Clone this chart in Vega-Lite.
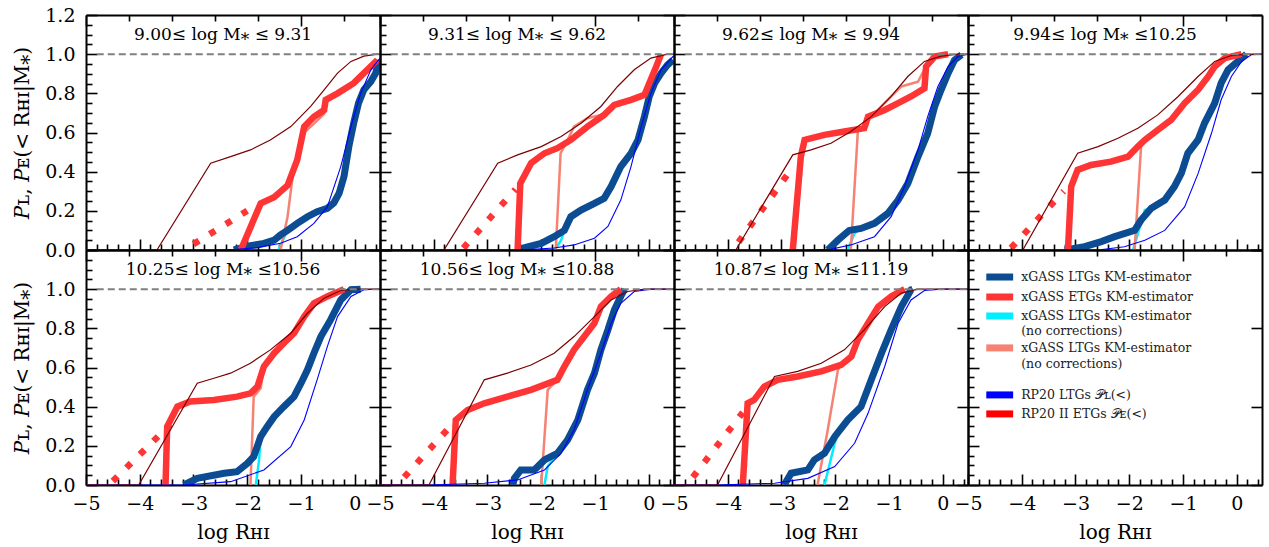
{
  "$schema": "https://vega.github.io/schema/vega-lite/v6.json",
  "padding": {"left": 12, "top": 6, "right": 5, "bottom": 5},
  "spacing": 0,
  "bounds": "flush",
  "columns": 4,
  "config": {
    "view": {"stroke": null},
    "font": "DejaVu Serif",
    "axis": {"grid": false, "domainColor": "#000", "domainWidth": 2, "tickColor": "#000", "tickWidth": 1.6, "labelFont": "DejaVu Serif", "labelFontSize": 19, "labelColor": "#000", "titleFont": "DejaVu Serif", "titleFontSize": 20, "titleFontWeight": "normal", "titleColor": "#000", "labelFlush": false, "labelOverlap": false}
  },
  "datasets": {
    "curves": [
      {"p":1,"s":"rp_etg","x":-5,"y":0},{"p":1,"s":"rp_etg","x":-3.68,"y":0},{"p":1,"s":"rp_etg","x":-2.68,"y":0.443},{"p":1,"s":"rp_etg","x":-2.31,"y":0.477},{"p":1,"s":"rp_etg","x":-1.94,"y":0.511},{"p":1,"s":"rp_etg","x":-1.57,"y":0.562},{"p":1,"s":"rp_etg","x":-1.19,"y":0.63},{"p":1,"s":"rp_etg","x":-0.82,"y":0.733},{"p":1,"s":"rp_etg","x":-0.57,"y":0.818},{"p":1,"s":"rp_etg","x":-0.32,"y":0.903},{"p":1,"s":"rp_etg","x":-0.07,"y":0.963},{"p":1,"s":"rp_etg","x":0.17,"y":0.99},{"p":1,"s":"rp_etg","x":0.42,"y":1.0},{"p":1,"s":"rp_etg","x":0.47,"y":1.0},
      {"p":1,"s":"rp_ltg","x":-5,"y":0},{"p":1,"s":"rp_ltg","x":-2.6,"y":0},{"p":1,"s":"rp_ltg","x":-2.2,"y":0.004},{"p":1,"s":"rp_ltg","x":-1.81,"y":0.012},{"p":1,"s":"rp_ltg","x":-1.38,"y":0.034},{"p":1,"s":"rp_ltg","x":-1.07,"y":0.068},{"p":1,"s":"rp_ltg","x":-0.76,"y":0.136},{"p":1,"s":"rp_ltg","x":-0.51,"y":0.22},{"p":1,"s":"rp_ltg","x":-0.26,"y":0.426},{"p":1,"s":"rp_ltg","x":-0.07,"y":0.63},{"p":1,"s":"rp_ltg","x":0.11,"y":0.8},{"p":1,"s":"rp_ltg","x":0.3,"y":0.92},{"p":1,"s":"rp_ltg","x":0.47,"y":0.98},
      {"p":1,"s":"km_ltg","x":-2.25,"y":0},{"p":1,"s":"km_ltg","x":-1.94,"y":0.022},{"p":1,"s":"km_ltg","x":-1.69,"y":0.034},{"p":1,"s":"km_ltg","x":-1.5,"y":0.05},{"p":1,"s":"km_ltg","x":-1.38,"y":0.077},{"p":1,"s":"km_ltg","x":-1.25,"y":0.1},{"p":1,"s":"km_ltg","x":-1.07,"y":0.136},{"p":1,"s":"km_ltg","x":-0.88,"y":0.17},{"p":1,"s":"km_ltg","x":-0.7,"y":0.196},{"p":1,"s":"km_ltg","x":-0.51,"y":0.213},{"p":1,"s":"km_ltg","x":-0.39,"y":0.24},{"p":1,"s":"km_ltg","x":-0.29,"y":0.29},{"p":1,"s":"km_ltg","x":-0.2,"y":0.375},{"p":1,"s":"km_ltg","x":-0.11,"y":0.528},{"p":1,"s":"km_ltg","x":-0.02,"y":0.647},{"p":1,"s":"km_ltg","x":0.07,"y":0.75},{"p":1,"s":"km_ltg","x":0.17,"y":0.818},{"p":1,"s":"km_ltg","x":0.3,"y":0.86},{"p":1,"s":"km_ltg","x":0.39,"y":0.903},{"p":1,"s":"km_ltg","x":0.45,"y":0.97},
      {"p":1,"s":"km_etg","x":-2.12,"y":0},{"p":1,"s":"km_etg","x":-1.75,"y":0.238},{"p":1,"s":"km_etg","x":-1.5,"y":0.27},{"p":1,"s":"km_etg","x":-1.25,"y":0.33},{"p":1,"s":"km_etg","x":-1.07,"y":0.46},{"p":1,"s":"km_etg","x":-0.94,"y":0.63},{"p":1,"s":"km_etg","x":-0.76,"y":0.68},{"p":1,"s":"km_etg","x":-0.57,"y":0.715},{"p":1,"s":"km_etg","x":-0.54,"y":0.767},{"p":1,"s":"km_etg","x":-0.32,"y":0.8},{"p":1,"s":"km_etg","x":-0.02,"y":0.852},{"p":1,"s":"km_etg","x":0.17,"y":0.903},{"p":1,"s":"km_etg","x":0.42,"y":0.97},
      {"p":1,"s":"dot","x":-3.0,"y":0.03},{"p":1,"s":"dot","x":-2.0,"y":0.2},
      {"p":1,"s":"nc_ltg","x":-1.42,"y":0},{"p":1,"s":"nc_ltg","x":-1.32,"y":0.06},{"p":1,"s":"nc_ltg","x":-1.25,"y":0.1},{"p":1,"s":"nc_ltg","x":-1.07,"y":0.136},{"p":1,"s":"nc_ltg","x":-0.88,"y":0.17},{"p":1,"s":"nc_ltg","x":-0.7,"y":0.196},{"p":1,"s":"nc_ltg","x":-0.51,"y":0.213},{"p":1,"s":"nc_ltg","x":-0.39,"y":0.24},{"p":1,"s":"nc_ltg","x":-0.29,"y":0.29},{"p":1,"s":"nc_ltg","x":-0.2,"y":0.375},{"p":1,"s":"nc_ltg","x":-0.11,"y":0.528},{"p":1,"s":"nc_ltg","x":-0.02,"y":0.647},{"p":1,"s":"nc_ltg","x":0.07,"y":0.75},{"p":1,"s":"nc_ltg","x":0.17,"y":0.818},{"p":1,"s":"nc_ltg","x":0.3,"y":0.86},{"p":1,"s":"nc_ltg","x":0.39,"y":0.903},{"p":1,"s":"nc_ltg","x":0.45,"y":0.97},
      {"p":1,"s":"nc_etg","x":-1.38,"y":0},{"p":1,"s":"nc_etg","x":-1.25,"y":0.17},{"p":1,"s":"nc_etg","x":-1.13,"y":0.43},{"p":1,"s":"nc_etg","x":-1.05,"y":0.5},{"p":1,"s":"nc_etg","x":-0.94,"y":0.6},{"p":1,"s":"nc_etg","x":-0.76,"y":0.645},{"p":1,"s":"nc_etg","x":-0.57,"y":0.695},{"p":1,"s":"nc_etg","x":-0.52,"y":0.77},{"p":1,"s":"nc_etg","x":-0.32,"y":0.8},{"p":1,"s":"nc_etg","x":-0.02,"y":0.852},{"p":1,"s":"nc_etg","x":0.17,"y":0.903},{"p":1,"s":"nc_etg","x":0.42,"y":0.97},

      {"p":2,"s":"rp_etg","x":-5,"y":0},{"p":2,"s":"rp_etg","x":-3.81,"y":0},{"p":2,"s":"rp_etg","x":-2.81,"y":0.443},{"p":2,"s":"rp_etg","x":-2.44,"y":0.486},{"p":2,"s":"rp_etg","x":-2.0,"y":0.528},{"p":2,"s":"rp_etg","x":-1.63,"y":0.58},{"p":2,"s":"rp_etg","x":-1.26,"y":0.647},{"p":2,"s":"rp_etg","x":-0.89,"y":0.733},{"p":2,"s":"rp_etg","x":-0.58,"y":0.835},{"p":2,"s":"rp_etg","x":-0.27,"y":0.92},{"p":2,"s":"rp_etg","x":0.04,"y":0.98},{"p":2,"s":"rp_etg","x":0.35,"y":1.0},{"p":2,"s":"rp_etg","x":0.47,"y":1.0},
      {"p":2,"s":"rp_ltg","x":-5,"y":0},{"p":2,"s":"rp_ltg","x":-2.4,"y":0},{"p":2,"s":"rp_ltg","x":-1.76,"y":0.01},{"p":2,"s":"rp_ltg","x":-1.39,"y":0.026},{"p":2,"s":"rp_ltg","x":-1.01,"y":0.06},{"p":2,"s":"rp_ltg","x":-0.76,"y":0.12},{"p":2,"s":"rp_ltg","x":-0.52,"y":0.255},{"p":2,"s":"rp_ltg","x":-0.33,"y":0.426},{"p":2,"s":"rp_ltg","x":-0.14,"y":0.63},{"p":2,"s":"rp_ltg","x":0.04,"y":0.8},{"p":2,"s":"rp_ltg","x":0.23,"y":0.92},{"p":2,"s":"rp_ltg","x":0.45,"y":0.988},{"p":2,"s":"rp_ltg","x":0.47,"y":0.99},
      {"p":2,"s":"km_ltg","x":-2.47,"y":0},{"p":2,"s":"km_ltg","x":-2.0,"y":0.034},{"p":2,"s":"km_ltg","x":-1.76,"y":0.068},{"p":2,"s":"km_ltg","x":-1.57,"y":0.1},{"p":2,"s":"km_ltg","x":-1.45,"y":0.17},{"p":2,"s":"km_ltg","x":-1.26,"y":0.204},{"p":2,"s":"km_ltg","x":-1.01,"y":0.238},{"p":2,"s":"km_ltg","x":-0.83,"y":0.264},{"p":2,"s":"km_ltg","x":-0.7,"y":0.324},{"p":2,"s":"km_ltg","x":-0.52,"y":0.426},{"p":2,"s":"km_ltg","x":-0.33,"y":0.494},{"p":2,"s":"km_ltg","x":-0.2,"y":0.562},{"p":2,"s":"km_ltg","x":-0.08,"y":0.681},{"p":2,"s":"km_ltg","x":0.01,"y":0.784},{"p":2,"s":"km_ltg","x":0.11,"y":0.852},{"p":2,"s":"km_ltg","x":0.23,"y":0.903},{"p":2,"s":"km_ltg","x":0.35,"y":0.945},{"p":2,"s":"km_ltg","x":0.45,"y":0.97},
      {"p":2,"s":"km_etg","x":-2.44,"y":0},{"p":2,"s":"km_etg","x":-2.39,"y":0.34},{"p":2,"s":"km_etg","x":-2.19,"y":0.443},{"p":2,"s":"km_etg","x":-1.94,"y":0.494},{"p":2,"s":"km_etg","x":-1.7,"y":0.52},{"p":2,"s":"km_etg","x":-1.45,"y":0.562},{"p":2,"s":"km_etg","x":-1.14,"y":0.63},{"p":2,"s":"km_etg","x":-0.83,"y":0.69},{"p":2,"s":"km_etg","x":-0.64,"y":0.741},{"p":2,"s":"km_etg","x":-0.33,"y":0.767},{"p":2,"s":"km_etg","x":-0.08,"y":0.792},{"p":2,"s":"km_etg","x":0.01,"y":0.852},{"p":2,"s":"km_etg","x":0.14,"y":0.937},{"p":2,"s":"km_etg","x":0.23,"y":1.0},
      {"p":2,"s":"dot","x":-3.45,"y":0.01},{"p":2,"s":"dot","x":-2.48,"y":0.31},
      {"p":2,"s":"nc_ltg","x":-1.75,"y":0},{"p":2,"s":"nc_ltg","x":-1.63,"y":0.05},{"p":2,"s":"nc_ltg","x":-1.57,"y":0.1},{"p":2,"s":"nc_ltg","x":-1.45,"y":0.17},{"p":2,"s":"nc_ltg","x":-1.26,"y":0.204},{"p":2,"s":"nc_ltg","x":-1.01,"y":0.238},{"p":2,"s":"nc_ltg","x":-0.83,"y":0.264},{"p":2,"s":"nc_ltg","x":-0.7,"y":0.324},{"p":2,"s":"nc_ltg","x":-0.52,"y":0.426},{"p":2,"s":"nc_ltg","x":-0.33,"y":0.494},{"p":2,"s":"nc_ltg","x":-0.2,"y":0.562},{"p":2,"s":"nc_ltg","x":-0.08,"y":0.681},{"p":2,"s":"nc_ltg","x":0.01,"y":0.784},{"p":2,"s":"nc_ltg","x":0.11,"y":0.852},{"p":2,"s":"nc_ltg","x":0.23,"y":0.903},{"p":2,"s":"nc_ltg","x":0.35,"y":0.945},{"p":2,"s":"nc_ltg","x":0.45,"y":0.97},
      {"p":2,"s":"nc_etg","x":-1.73,"y":0},{"p":2,"s":"nc_etg","x":-1.64,"y":0.494},{"p":2,"s":"nc_etg","x":-1.51,"y":0.562},{"p":2,"s":"nc_etg","x":-1.39,"y":0.63},{"p":2,"s":"nc_etg","x":-1.14,"y":0.673},{"p":2,"s":"nc_etg","x":-0.89,"y":0.69},{"p":2,"s":"nc_etg","x":-0.64,"y":0.735},{"p":2,"s":"nc_etg","x":-0.33,"y":0.767},{"p":2,"s":"nc_etg","x":-0.08,"y":0.792},{"p":2,"s":"nc_etg","x":0.01,"y":0.852},{"p":2,"s":"nc_etg","x":0.14,"y":0.937},{"p":2,"s":"nc_etg","x":0.23,"y":1.0},

      {"p":3,"s":"rp_etg","x":-5,"y":0},{"p":3,"s":"rp_etg","x":-3.85,"y":0},{"p":3,"s":"rp_etg","x":-2.79,"y":0.486},{"p":3,"s":"rp_etg","x":-2.45,"y":0.511},{"p":3,"s":"rp_etg","x":-2.08,"y":0.545},{"p":3,"s":"rp_etg","x":-1.71,"y":0.605},{"p":3,"s":"rp_etg","x":-1.33,"y":0.681},{"p":3,"s":"rp_etg","x":-0.96,"y":0.784},{"p":3,"s":"rp_etg","x":-0.65,"y":0.886},{"p":3,"s":"rp_etg","x":-0.34,"y":0.963},{"p":3,"s":"rp_etg","x":-0.03,"y":0.99},{"p":3,"s":"rp_etg","x":0.28,"y":1.0},{"p":3,"s":"rp_etg","x":0.47,"y":1.0},
      {"p":3,"s":"rp_ltg","x":-5,"y":0},{"p":3,"s":"rp_ltg","x":-2.6,"y":0},{"p":3,"s":"rp_ltg","x":-2.08,"y":0.004},{"p":3,"s":"rp_ltg","x":-1.71,"y":0.026},{"p":3,"s":"rp_ltg","x":-1.27,"y":0.068},{"p":3,"s":"rp_ltg","x":-0.96,"y":0.17},{"p":3,"s":"rp_ltg","x":-0.71,"y":0.324},{"p":3,"s":"rp_ltg","x":-0.46,"y":0.511},{"p":3,"s":"rp_ltg","x":-0.28,"y":0.681},{"p":3,"s":"rp_ltg","x":-0.09,"y":0.835},{"p":3,"s":"rp_ltg","x":0.1,"y":0.937},{"p":3,"s":"rp_ltg","x":0.28,"y":0.988},{"p":3,"s":"rp_ltg","x":0.47,"y":1.0},
      {"p":3,"s":"km_ltg","x":-2.14,"y":0},{"p":3,"s":"km_ltg","x":-1.95,"y":0.05},{"p":3,"s":"km_ltg","x":-1.74,"y":0.1},{"p":3,"s":"km_ltg","x":-1.52,"y":0.11},{"p":3,"s":"km_ltg","x":-1.27,"y":0.136},{"p":3,"s":"km_ltg","x":-1.02,"y":0.187},{"p":3,"s":"km_ltg","x":-0.83,"y":0.255},{"p":3,"s":"km_ltg","x":-0.65,"y":0.34},{"p":3,"s":"km_ltg","x":-0.46,"y":0.477},{"p":3,"s":"km_ltg","x":-0.28,"y":0.596},{"p":3,"s":"km_ltg","x":-0.15,"y":0.733},{"p":3,"s":"km_ltg","x":-0.03,"y":0.818},{"p":3,"s":"km_ltg","x":0.1,"y":0.903},{"p":3,"s":"km_ltg","x":0.22,"y":0.97},{"p":3,"s":"km_ltg","x":0.35,"y":0.997},
      {"p":3,"s":"km_etg","x":-2.79,"y":0},{"p":3,"s":"km_etg","x":-2.64,"y":0.477},{"p":3,"s":"km_etg","x":-2.57,"y":0.562},{"p":3,"s":"km_etg","x":-2.2,"y":0.588},{"p":3,"s":"km_etg","x":-1.83,"y":0.605},{"p":3,"s":"km_etg","x":-1.46,"y":0.622},{"p":3,"s":"km_etg","x":-1.39,"y":0.681},{"p":3,"s":"km_etg","x":-1.08,"y":0.715},{"p":3,"s":"km_etg","x":-0.83,"y":0.75},{"p":3,"s":"km_etg","x":-0.59,"y":0.784},{"p":3,"s":"km_etg","x":-0.34,"y":0.826},{"p":3,"s":"km_etg","x":-0.31,"y":0.937},{"p":3,"s":"km_etg","x":-0.15,"y":0.988},{"p":3,"s":"km_etg","x":0.1,"y":1.0},
      {"p":3,"s":"dot","x":-3.8,"y":0.04},{"p":3,"s":"dot","x":-2.85,"y":0.4},
      {"p":3,"s":"nc_ltg","x":-1.77,"y":0},{"p":3,"s":"nc_ltg","x":-1.64,"y":0.085},{"p":3,"s":"nc_ltg","x":-1.52,"y":0.11},{"p":3,"s":"nc_ltg","x":-1.27,"y":0.136},{"p":3,"s":"nc_ltg","x":-1.02,"y":0.187},{"p":3,"s":"nc_ltg","x":-0.83,"y":0.255},{"p":3,"s":"nc_ltg","x":-0.65,"y":0.34},{"p":3,"s":"nc_ltg","x":-0.46,"y":0.477},{"p":3,"s":"nc_ltg","x":-0.28,"y":0.596},{"p":3,"s":"nc_ltg","x":-0.15,"y":0.733},{"p":3,"s":"nc_ltg","x":-0.03,"y":0.818},{"p":3,"s":"nc_ltg","x":0.1,"y":0.903},{"p":3,"s":"nc_ltg","x":0.22,"y":0.97},{"p":3,"s":"nc_ltg","x":0.35,"y":0.997},
      {"p":3,"s":"nc_etg","x":-1.71,"y":0},{"p":3,"s":"nc_etg","x":-1.58,"y":0.605},{"p":3,"s":"nc_etg","x":-1.33,"y":0.681},{"p":3,"s":"nc_etg","x":-0.96,"y":0.784},{"p":3,"s":"nc_etg","x":-0.77,"y":0.835},{"p":3,"s":"nc_etg","x":-0.46,"y":0.86},{"p":3,"s":"nc_etg","x":-0.31,"y":0.937},{"p":3,"s":"nc_etg","x":-0.15,"y":0.988},{"p":3,"s":"nc_etg","x":0.1,"y":1.0},

      {"p":4,"s":"rp_etg","x":-5,"y":0},{"p":4,"s":"rp_etg","x":-3.98,"y":0},{"p":4,"s":"rp_etg","x":-2.96,"y":0.494},{"p":4,"s":"rp_etg","x":-2.58,"y":0.528},{"p":4,"s":"rp_etg","x":-2.21,"y":0.571},{"p":4,"s":"rp_etg","x":-1.84,"y":0.622},{"p":4,"s":"rp_etg","x":-1.47,"y":0.69},{"p":4,"s":"rp_etg","x":-1.09,"y":0.784},{"p":4,"s":"rp_etg","x":-0.72,"y":0.886},{"p":4,"s":"rp_etg","x":-0.41,"y":0.963},{"p":4,"s":"rp_etg","x":-0.1,"y":0.993},{"p":4,"s":"rp_etg","x":0.21,"y":1.0},{"p":4,"s":"rp_etg","x":0.47,"y":1.0},
      {"p":4,"s":"rp_ltg","x":-5,"y":0},{"p":4,"s":"rp_ltg","x":-2.58,"y":0},{"p":4,"s":"rp_ltg","x":-2.09,"y":0.017},{"p":4,"s":"rp_ltg","x":-1.71,"y":0.05},{"p":4,"s":"rp_ltg","x":-1.34,"y":0.1},{"p":4,"s":"rp_ltg","x":-0.97,"y":0.22},{"p":4,"s":"rp_ltg","x":-0.72,"y":0.39},{"p":4,"s":"rp_ltg","x":-0.47,"y":0.596},{"p":4,"s":"rp_ltg","x":-0.29,"y":0.767},{"p":4,"s":"rp_ltg","x":-0.1,"y":0.886},{"p":4,"s":"rp_ltg","x":0.09,"y":0.963},{"p":4,"s":"rp_ltg","x":0.27,"y":0.997},{"p":4,"s":"rp_ltg","x":0.47,"y":1.0},
      {"p":4,"s":"km_ltg","x":-3.2,"y":0},{"p":4,"s":"km_ltg","x":-2.83,"y":0.017},{"p":4,"s":"km_ltg","x":-2.52,"y":0.043},{"p":4,"s":"km_ltg","x":-2.27,"y":0.068},{"p":4,"s":"km_ltg","x":-1.9,"y":0.1},{"p":4,"s":"km_ltg","x":-1.78,"y":0.153},{"p":4,"s":"km_ltg","x":-1.59,"y":0.213},{"p":4,"s":"km_ltg","x":-1.34,"y":0.255},{"p":4,"s":"km_ltg","x":-1.16,"y":0.324},{"p":4,"s":"km_ltg","x":-1.03,"y":0.392},{"p":4,"s":"km_ltg","x":-0.91,"y":0.494},{"p":4,"s":"km_ltg","x":-0.72,"y":0.562},{"p":4,"s":"km_ltg","x":-0.6,"y":0.647},{"p":4,"s":"km_ltg","x":-0.41,"y":0.75},{"p":4,"s":"km_ltg","x":-0.29,"y":0.852},{"p":4,"s":"km_ltg","x":-0.16,"y":0.92},{"p":4,"s":"km_ltg","x":0.02,"y":0.963},{"p":4,"s":"km_ltg","x":0.18,"y":1.0},
      {"p":4,"s":"km_etg","x":-3.14,"y":0},{"p":4,"s":"km_etg","x":-3.08,"y":0.324},{"p":4,"s":"km_etg","x":-2.96,"y":0.409},{"p":4,"s":"km_etg","x":-2.71,"y":0.434},{"p":4,"s":"km_etg","x":-2.34,"y":0.451},{"p":4,"s":"km_etg","x":-2.02,"y":0.477},{"p":4,"s":"km_etg","x":-1.84,"y":0.528},{"p":4,"s":"km_etg","x":-1.71,"y":0.562},{"p":4,"s":"km_etg","x":-1.47,"y":0.613},{"p":4,"s":"km_etg","x":-1.22,"y":0.664},{"p":4,"s":"km_etg","x":-0.97,"y":0.75},{"p":4,"s":"km_etg","x":-0.72,"y":0.818},{"p":4,"s":"km_etg","x":-0.53,"y":0.886},{"p":4,"s":"km_etg","x":-0.41,"y":0.937},{"p":4,"s":"km_etg","x":-0.22,"y":0.98},{"p":4,"s":"km_etg","x":0.09,"y":1.0},
      {"p":4,"s":"dot","x":-4.2,"y":0.01},{"p":4,"s":"dot","x":-3.22,"y":0.3},
      {"p":4,"s":"nc_ltg","x":-1.93,"y":0},{"p":4,"s":"nc_ltg","x":-1.71,"y":0.204},{"p":4,"s":"nc_ltg","x":-1.59,"y":0.213},{"p":4,"s":"nc_ltg","x":-1.34,"y":0.255},{"p":4,"s":"nc_ltg","x":-1.16,"y":0.324},{"p":4,"s":"nc_ltg","x":-1.03,"y":0.392},{"p":4,"s":"nc_ltg","x":-0.91,"y":0.494},{"p":4,"s":"nc_ltg","x":-0.72,"y":0.562},{"p":4,"s":"nc_ltg","x":-0.6,"y":0.647},{"p":4,"s":"nc_ltg","x":-0.41,"y":0.75},{"p":4,"s":"nc_ltg","x":-0.29,"y":0.852},{"p":4,"s":"nc_ltg","x":-0.16,"y":0.92},{"p":4,"s":"nc_ltg","x":0.02,"y":0.963},{"p":4,"s":"nc_ltg","x":0.18,"y":1.0},
      {"p":4,"s":"nc_etg","x":-1.9,"y":0},{"p":4,"s":"nc_etg","x":-1.78,"y":0.528},{"p":4,"s":"nc_etg","x":-1.71,"y":0.562},{"p":4,"s":"nc_etg","x":-1.47,"y":0.613},{"p":4,"s":"nc_etg","x":-1.22,"y":0.664},{"p":4,"s":"nc_etg","x":-0.97,"y":0.75},{"p":4,"s":"nc_etg","x":-0.72,"y":0.818},{"p":4,"s":"nc_etg","x":-0.53,"y":0.886},{"p":4,"s":"nc_etg","x":-0.41,"y":0.937},{"p":4,"s":"nc_etg","x":-0.22,"y":0.98},{"p":4,"s":"nc_etg","x":0.09,"y":1.0},

      {"p":5,"s":"rp_etg","x":-5,"y":0},{"p":5,"s":"rp_etg","x":-4.02,"y":0},{"p":5,"s":"rp_etg","x":-2.93,"y":0.52},{"p":5,"s":"rp_etg","x":-2.62,"y":0.545},{"p":5,"s":"rp_etg","x":-2.31,"y":0.571},{"p":5,"s":"rp_etg","x":-1.94,"y":0.622},{"p":5,"s":"rp_etg","x":-1.57,"y":0.69},{"p":5,"s":"rp_etg","x":-1.19,"y":0.775},{"p":5,"s":"rp_etg","x":-0.88,"y":0.877},{"p":5,"s":"rp_etg","x":-0.57,"y":0.954},{"p":5,"s":"rp_etg","x":-0.26,"y":0.993},{"p":5,"s":"rp_etg","x":0.05,"y":1.0},{"p":5,"s":"rp_etg","x":0.47,"y":1.0},
      {"p":5,"s":"rp_ltg","x":-5,"y":0},{"p":5,"s":"rp_ltg","x":-3.18,"y":0},{"p":5,"s":"rp_ltg","x":-2.31,"y":0.017},{"p":5,"s":"rp_ltg","x":-1.69,"y":0.077},{"p":5,"s":"rp_ltg","x":-1.19,"y":0.196},{"p":5,"s":"rp_ltg","x":-0.94,"y":0.332},{"p":5,"s":"rp_ltg","x":-0.7,"y":0.537},{"p":5,"s":"rp_ltg","x":-0.51,"y":0.707},{"p":5,"s":"rp_ltg","x":-0.32,"y":0.86},{"p":5,"s":"rp_ltg","x":-0.07,"y":0.963},{"p":5,"s":"rp_ltg","x":0.17,"y":0.997},{"p":5,"s":"rp_ltg","x":0.42,"y":1.0},{"p":5,"s":"rp_ltg","x":0.47,"y":1.0},
      {"p":5,"s":"km_ltg","x":-3.18,"y":0},{"p":5,"s":"km_ltg","x":-2.93,"y":0.034},{"p":5,"s":"km_ltg","x":-2.43,"y":0.06},{"p":5,"s":"km_ltg","x":-2.19,"y":0.068},{"p":5,"s":"km_ltg","x":-2.0,"y":0.11},{"p":5,"s":"km_ltg","x":-1.88,"y":0.145},{"p":5,"s":"km_ltg","x":-1.75,"y":0.247},{"p":5,"s":"km_ltg","x":-1.63,"y":0.298},{"p":5,"s":"km_ltg","x":-1.5,"y":0.349},{"p":5,"s":"km_ltg","x":-1.32,"y":0.4},{"p":5,"s":"km_ltg","x":-1.13,"y":0.451},{"p":5,"s":"km_ltg","x":-1.0,"y":0.52},{"p":5,"s":"km_ltg","x":-0.88,"y":0.588},{"p":5,"s":"km_ltg","x":-0.76,"y":0.673},{"p":5,"s":"km_ltg","x":-0.63,"y":0.758},{"p":5,"s":"km_ltg","x":-0.45,"y":0.843},{"p":5,"s":"km_ltg","x":-0.26,"y":0.945},{"p":5,"s":"km_ltg","x":-0.07,"y":0.997},{"p":5,"s":"km_ltg","x":0.11,"y":1.0},
      {"p":5,"s":"km_etg","x":-3.52,"y":0},{"p":5,"s":"km_etg","x":-3.49,"y":0.298},{"p":5,"s":"km_etg","x":-3.3,"y":0.4},{"p":5,"s":"km_etg","x":-3.06,"y":0.426},{"p":5,"s":"km_etg","x":-2.62,"y":0.434},{"p":5,"s":"km_etg","x":-2.19,"y":0.451},{"p":5,"s":"km_etg","x":-1.94,"y":0.468},{"p":5,"s":"km_etg","x":-1.81,"y":0.503},{"p":5,"s":"km_etg","x":-1.69,"y":0.605},{"p":5,"s":"km_etg","x":-1.5,"y":0.673},{"p":5,"s":"km_etg","x":-1.32,"y":0.724},{"p":5,"s":"km_etg","x":-1.13,"y":0.775},{"p":5,"s":"km_etg","x":-0.94,"y":0.86},{"p":5,"s":"km_etg","x":-0.76,"y":0.928},{"p":5,"s":"km_etg","x":-0.51,"y":0.963},{"p":5,"s":"km_etg","x":-0.2,"y":1.0},
      {"p":5,"s":"dot","x":-4.5,"y":0.02},{"p":5,"s":"dot","x":-3.43,"y":0.31},
      {"p":5,"s":"nc_ltg","x":-1.84,"y":0},{"p":5,"s":"nc_ltg","x":-1.78,"y":0.128},{"p":5,"s":"nc_ltg","x":-1.75,"y":0.247},{"p":5,"s":"nc_ltg","x":-1.63,"y":0.298},{"p":5,"s":"nc_ltg","x":-1.5,"y":0.349},{"p":5,"s":"nc_ltg","x":-1.32,"y":0.4},{"p":5,"s":"nc_ltg","x":-1.13,"y":0.451},{"p":5,"s":"nc_ltg","x":-1.0,"y":0.52},{"p":5,"s":"nc_ltg","x":-0.88,"y":0.588},{"p":5,"s":"nc_ltg","x":-0.76,"y":0.673},{"p":5,"s":"nc_ltg","x":-0.63,"y":0.758},{"p":5,"s":"nc_ltg","x":-0.45,"y":0.843},{"p":5,"s":"nc_ltg","x":-0.26,"y":0.945},{"p":5,"s":"nc_ltg","x":-0.07,"y":0.997},{"p":5,"s":"nc_ltg","x":0.11,"y":1.0},
      {"p":5,"s":"nc_etg","x":-1.94,"y":0},{"p":5,"s":"nc_etg","x":-1.88,"y":0.451},{"p":5,"s":"nc_etg","x":-1.75,"y":0.494},{"p":5,"s":"nc_etg","x":-1.69,"y":0.605},{"p":5,"s":"nc_etg","x":-1.5,"y":0.673},{"p":5,"s":"nc_etg","x":-1.32,"y":0.724},{"p":5,"s":"nc_etg","x":-1.13,"y":0.775},{"p":5,"s":"nc_etg","x":-0.94,"y":0.86},{"p":5,"s":"nc_etg","x":-0.76,"y":0.928},{"p":5,"s":"nc_etg","x":-0.51,"y":0.963},{"p":5,"s":"nc_etg","x":-0.2,"y":1.0},

      {"p":6,"s":"rp_etg","x":-5,"y":0},{"p":6,"s":"rp_etg","x":-4.09,"y":0},{"p":6,"s":"rp_etg","x":-3.06,"y":0.537},{"p":6,"s":"rp_etg","x":-2.63,"y":0.571},{"p":6,"s":"rp_etg","x":-2.19,"y":0.613},{"p":6,"s":"rp_etg","x":-1.76,"y":0.673},{"p":6,"s":"rp_etg","x":-1.39,"y":0.758},{"p":6,"s":"rp_etg","x":-1.01,"y":0.86},{"p":6,"s":"rp_etg","x":-0.7,"y":0.945},{"p":6,"s":"rp_etg","x":-0.39,"y":0.988},{"p":6,"s":"rp_etg","x":-0.08,"y":1.0},{"p":6,"s":"rp_etg","x":0.47,"y":1.0},
      {"p":6,"s":"rp_ltg","x":-5,"y":0},{"p":6,"s":"rp_ltg","x":-4.09,"y":0},{"p":6,"s":"rp_ltg","x":-3.06,"y":0.009},{"p":6,"s":"rp_ltg","x":-2.44,"y":0.026},{"p":6,"s":"rp_ltg","x":-1.94,"y":0.077},{"p":6,"s":"rp_ltg","x":-1.63,"y":0.162},{"p":6,"s":"rp_ltg","x":-1.39,"y":0.281},{"p":6,"s":"rp_ltg","x":-1.14,"y":0.486},{"p":6,"s":"rp_ltg","x":-0.89,"y":0.673},{"p":6,"s":"rp_ltg","x":-0.7,"y":0.826},{"p":6,"s":"rp_ltg","x":-0.52,"y":0.928},{"p":6,"s":"rp_ltg","x":-0.27,"y":0.988},{"p":6,"s":"rp_ltg","x":0.04,"y":1.0},{"p":6,"s":"rp_ltg","x":0.47,"y":1.0},
      {"p":6,"s":"km_ltg","x":-2.53,"y":0},{"p":6,"s":"km_ltg","x":-2.5,"y":0.034},{"p":6,"s":"km_ltg","x":-2.38,"y":0.077},{"p":6,"s":"km_ltg","x":-2.13,"y":0.077},{"p":6,"s":"km_ltg","x":-1.94,"y":0.128},{"p":6,"s":"km_ltg","x":-1.7,"y":0.162},{"p":6,"s":"km_ltg","x":-1.51,"y":0.23},{"p":6,"s":"km_ltg","x":-1.32,"y":0.332},{"p":6,"s":"km_ltg","x":-1.14,"y":0.486},{"p":6,"s":"km_ltg","x":-1.01,"y":0.571},{"p":6,"s":"km_ltg","x":-0.89,"y":0.69},{"p":6,"s":"km_ltg","x":-0.76,"y":0.792},{"p":6,"s":"km_ltg","x":-0.64,"y":0.894},{"p":6,"s":"km_ltg","x":-0.52,"y":0.963},{"p":6,"s":"km_ltg","x":-0.45,"y":1.0},
      {"p":6,"s":"km_etg","x":-3.65,"y":0},{"p":6,"s":"km_etg","x":-3.59,"y":0.332},{"p":6,"s":"km_etg","x":-3.37,"y":0.383},{"p":6,"s":"km_etg","x":-3.06,"y":0.417},{"p":6,"s":"km_etg","x":-2.63,"y":0.451},{"p":6,"s":"km_etg","x":-2.19,"y":0.486},{"p":6,"s":"km_etg","x":-1.7,"y":0.537},{"p":6,"s":"km_etg","x":-1.57,"y":0.605},{"p":6,"s":"km_etg","x":-1.39,"y":0.69},{"p":6,"s":"km_etg","x":-1.2,"y":0.758},{"p":6,"s":"km_etg","x":-1.01,"y":0.826},{"p":6,"s":"km_etg","x":-0.89,"y":0.911},{"p":6,"s":"km_etg","x":-0.7,"y":0.963},{"p":6,"s":"km_etg","x":-0.52,"y":1.0},
      {"p":6,"s":"dot","x":-4.55,"y":0.04},{"p":6,"s":"dot","x":-3.59,"y":0.33},
      {"p":6,"s":"nc_ltg","x":-1.94,"y":0},{"p":6,"s":"nc_ltg","x":-1.88,"y":0.094},{"p":6,"s":"nc_ltg","x":-1.7,"y":0.162},{"p":6,"s":"nc_ltg","x":-1.51,"y":0.23},{"p":6,"s":"nc_ltg","x":-1.32,"y":0.332},{"p":6,"s":"nc_ltg","x":-1.14,"y":0.486},{"p":6,"s":"nc_ltg","x":-1.01,"y":0.571},{"p":6,"s":"nc_ltg","x":-0.89,"y":0.69},{"p":6,"s":"nc_ltg","x":-0.76,"y":0.792},{"p":6,"s":"nc_ltg","x":-0.64,"y":0.894},{"p":6,"s":"nc_ltg","x":-0.52,"y":0.963},{"p":6,"s":"nc_ltg","x":-0.45,"y":1.0},
      {"p":6,"s":"nc_etg","x":-2.0,"y":0},{"p":6,"s":"nc_etg","x":-1.88,"y":0.486},{"p":6,"s":"nc_etg","x":-1.76,"y":0.52},{"p":6,"s":"nc_etg","x":-1.7,"y":0.537},{"p":6,"s":"nc_etg","x":-1.57,"y":0.605},{"p":6,"s":"nc_etg","x":-1.39,"y":0.69},{"p":6,"s":"nc_etg","x":-1.2,"y":0.758},{"p":6,"s":"nc_etg","x":-1.01,"y":0.826},{"p":6,"s":"nc_etg","x":-0.89,"y":0.911},{"p":6,"s":"nc_etg","x":-0.7,"y":0.963},{"p":6,"s":"nc_etg","x":-0.52,"y":1.0},

      {"p":7,"s":"rp_etg","x":-5,"y":0},{"p":7,"s":"rp_etg","x":-4.19,"y":0},{"p":7,"s":"rp_etg","x":-3.13,"y":0.554},{"p":7,"s":"rp_etg","x":-2.7,"y":0.58},{"p":7,"s":"rp_etg","x":-2.26,"y":0.622},{"p":7,"s":"rp_etg","x":-1.83,"y":0.69},{"p":7,"s":"rp_etg","x":-1.46,"y":0.792},{"p":7,"s":"rp_etg","x":-1.08,"y":0.911},{"p":7,"s":"rp_etg","x":-0.77,"y":0.98},{"p":7,"s":"rp_etg","x":-0.46,"y":1.0},{"p":7,"s":"rp_etg","x":0.47,"y":1.0},
      {"p":7,"s":"rp_ltg","x":-5,"y":0},{"p":7,"s":"rp_ltg","x":-4.19,"y":0},{"p":7,"s":"rp_ltg","x":-3.13,"y":0.009},{"p":7,"s":"rp_ltg","x":-2.51,"y":0.034},{"p":7,"s":"rp_ltg","x":-2.01,"y":0.094},{"p":7,"s":"rp_ltg","x":-1.64,"y":0.213},{"p":7,"s":"rp_ltg","x":-1.39,"y":0.366},{"p":7,"s":"rp_ltg","x":-1.08,"y":0.605},{"p":7,"s":"rp_ltg","x":-0.83,"y":0.826},{"p":7,"s":"rp_ltg","x":-0.59,"y":0.945},{"p":7,"s":"rp_ltg","x":-0.34,"y":0.993},{"p":7,"s":"rp_ltg","x":-0.03,"y":1.0},{"p":7,"s":"rp_ltg","x":0.47,"y":1.0},
      {"p":7,"s":"km_ltg","x":-2.95,"y":0},{"p":7,"s":"km_ltg","x":-2.82,"y":0.06},{"p":7,"s":"km_ltg","x":-2.51,"y":0.077},{"p":7,"s":"km_ltg","x":-2.39,"y":0.128},{"p":7,"s":"km_ltg","x":-2.2,"y":0.162},{"p":7,"s":"km_ltg","x":-2.01,"y":0.247},{"p":7,"s":"km_ltg","x":-1.77,"y":0.332},{"p":7,"s":"km_ltg","x":-1.52,"y":0.4},{"p":7,"s":"km_ltg","x":-1.33,"y":0.537},{"p":7,"s":"km_ltg","x":-1.14,"y":0.673},{"p":7,"s":"km_ltg","x":-0.96,"y":0.792},{"p":7,"s":"km_ltg","x":-0.77,"y":0.911},{"p":7,"s":"km_ltg","x":-0.59,"y":0.997},{"p":7,"s":"km_ltg","x":-0.56,"y":1.0},
      {"p":7,"s":"km_etg","x":-3.72,"y":0},{"p":7,"s":"km_etg","x":-3.63,"y":0.417},{"p":7,"s":"km_etg","x":-3.51,"y":0.434},{"p":7,"s":"km_etg","x":-3.32,"y":0.503},{"p":7,"s":"km_etg","x":-3.07,"y":0.537},{"p":7,"s":"km_etg","x":-2.7,"y":0.554},{"p":7,"s":"km_etg","x":-2.26,"y":0.58},{"p":7,"s":"km_etg","x":-1.89,"y":0.613},{"p":7,"s":"km_etg","x":-1.7,"y":0.656},{"p":7,"s":"km_etg","x":-1.58,"y":0.741},{"p":7,"s":"km_etg","x":-1.39,"y":0.826},{"p":7,"s":"km_etg","x":-1.2,"y":0.911},{"p":7,"s":"km_etg","x":-0.96,"y":0.963},{"p":7,"s":"km_etg","x":-0.71,"y":1.0},
      {"p":7,"s":"dot","x":-4.65,"y":0.04},{"p":7,"s":"dot","x":-3.72,"y":0.37},
      {"p":7,"s":"nc_ltg","x":-2.2,"y":0},{"p":7,"s":"nc_ltg","x":-2.01,"y":0.213},{"p":7,"s":"nc_ltg","x":-1.95,"y":0.26},{"p":7,"s":"nc_ltg","x":-1.77,"y":0.332},{"p":7,"s":"nc_ltg","x":-1.52,"y":0.4},{"p":7,"s":"nc_ltg","x":-1.33,"y":0.537},{"p":7,"s":"nc_ltg","x":-1.14,"y":0.673},{"p":7,"s":"nc_ltg","x":-0.96,"y":0.792},{"p":7,"s":"nc_ltg","x":-0.77,"y":0.911},{"p":7,"s":"nc_ltg","x":-0.59,"y":0.997},{"p":7,"s":"nc_ltg","x":-0.56,"y":1.0},
      {"p":7,"s":"nc_etg","x":-2.33,"y":0},{"p":7,"s":"nc_etg","x":-2.14,"y":0.281},{"p":7,"s":"nc_etg","x":-1.95,"y":0.588},{"p":7,"s":"nc_etg","x":-1.89,"y":0.613},{"p":7,"s":"nc_etg","x":-1.7,"y":0.656},{"p":7,"s":"nc_etg","x":-1.58,"y":0.741},{"p":7,"s":"nc_etg","x":-1.39,"y":0.826},{"p":7,"s":"nc_etg","x":-1.2,"y":0.911},{"p":7,"s":"nc_etg","x":-0.96,"y":0.963},{"p":7,"s":"nc_etg","x":-0.71,"y":1.0}
    ],
    "legend": [
      {"s":"km_ltg","label":"xGASS LTGs KM-estimator","ly":1.062},
      {"s":"km_etg","label":"xGASS ETGs KM-estimator","ly":0.96},
      {"s":"nc_ltg","label":"xGASS LTGs KM-estimator","ly":0.863},
      {"s":null,"label":"(no corrections)","ly":0.786},
      {"s":"nc_etg","label":"xGASS LTGs KM-estimator","ly":0.7},
      {"s":null,"label":"(no corrections)","ly":0.618},
      {"s":"rp_ltg","label":"RP20 LTGs 𝒫ʟ(<)","ly":0.46},
      {"s":"rp_etg","label":"RP20 II ETGs 𝒫ᴇ(<)","ly":0.363}
    ]
  },
  "concat": [
    {
      "width": 294, "height": 235,
      "layer": [
        {
          "data": {"name": "curves"},
          "transform": [{"filter": "datum.p == 1"}],
          "encoding": {
            "x": {"field": "x", "type": "quantitative", "scale": {"domain": [-5, 0.47], "nice": false, "zero": false}, "axis": {"orient": "bottom", "values": [-5,-4.8,-4.6,-4.4,-4.2,-4,-3.8,-3.6,-3.4,-3.2,-3,-2.8,-2.6,-2.4,-2.2,-2,-1.8,-1.6,-1.4,-1.2,-1,-0.8,-0.6,-0.4,-0.2,0,0.2,0.4], "tickSize": {"condition": {"test": "abs(datum.value-round(datum.value))<0.001", "value": -11}, "value": -6}, "labels": false, "title": null}},
            "y": {"field": "y", "type": "quantitative", "scale": {"domain": [0, 1.2], "nice": false, "zero": false}, "axis": {"orient": "left", "values": [0,0.05,0.1,0.15,0.2,0.25,0.3,0.35,0.4,0.45,0.5,0.55,0.6,0.65,0.7,0.75,0.8,0.85,0.9,0.95,1,1.05,1.1,1.15,1.2], "tickSize": {"condition": {"test": "abs(datum.value*5-round(datum.value*5))<0.001", "value": -11}, "value": -6}, "labelExpr": "abs(datum.value*5-round(datum.value*5))<0.001 ? format(datum.value,'.1f') : ''", "labelPadding": 22, "title": "𝑃ʟ, 𝑃ᴇ(< Rʜɪ|M⁎)", "titlePadding": 12}}
          },
          "layer": [
            {"transform": [{"filter": "datum.s == 'nc_ltg'"}], "mark": {"type": "line", "color": "#00eeff", "strokeWidth": 2.5, "clip": true}},
            {"transform": [{"filter": "datum.s == 'nc_etg'"}], "mark": {"type": "line", "color": "#f58272", "strokeWidth": 2.5, "clip": true}},
            {"transform": [{"filter": "datum.s == 'km_ltg'"}], "mark": {"type": "line", "color": "#0b4c92", "strokeWidth": 7, "clip": true}},
            {"transform": [{"filter": "datum.s == 'km_etg'"}], "mark": {"type": "line", "color": "#ff3434", "strokeWidth": 6.5, "clip": true}},
            {"transform": [{"filter": "datum.s == 'dot'"}], "mark": {"type": "line", "color": "#ff3434", "strokeWidth": 6.5, "strokeDash": [6.5, 12.5], "clip": true}},
            {"transform": [{"filter": "datum.s == 'rp_ltg'"}], "mark": {"type": "line", "color": "#0000ff", "strokeWidth": 1.1, "clip": true}},
            {"transform": [{"filter": "datum.s == 'rp_etg'"}], "mark": {"type": "line", "color": "#7a0000", "strokeWidth": 1.2, "clip": true}}
          ]
        },
        {
          "data": {"values": [{"lab": "9.00≤ log M⁎ ≤ 9.31"}]},
          "layer": [
            {"mark": {"type": "rule", "color": "#808080", "strokeWidth": 2, "strokeDash": [7, 4]}, "encoding": {"x": {"datum": -4.8, "type": "quantitative", "scale": {"domain": [-5, 0.47], "nice": false, "zero": false}, "axis": {"orient": "top", "values": [-5,-4.8,-4.6,-4.4,-4.2,-4,-3.8,-3.6,-3.4,-3.2,-3,-2.8,-2.6,-2.4,-2.2,-2,-1.8,-1.6,-1.4,-1.2,-1,-0.8,-0.6,-0.4,-0.2,0,0.2,0.4], "tickSize": {"condition": {"test": "abs(datum.value-round(datum.value))<0.001", "value": -11}, "value": -6}, "labels": false, "title": null}}, "x2": {"datum": 0.47}, "y": {"datum": 1, "type": "quantitative", "scale": {"domain": [0, 1.2], "nice": false, "zero": false}, "axis": {"orient": "right", "values": [0,0.05,0.1,0.15,0.2,0.25,0.3,0.35,0.4,0.45,0.5,0.55,0.6,0.65,0.7,0.75,0.8,0.85,0.9,0.95,1,1.05,1.1,1.15,1.2], "tickSize": {"condition": {"test": "abs(datum.value*5-round(datum.value*5))<0.001", "value": -11}, "value": -6}, "labels": false, "title": null}}}},
            {"mark": {"type": "text", "font": "DejaVu Serif", "fontSize": 17, "align": "center", "baseline": "middle", "color": "#000"}, "encoding": {"x": {"datum": -2.45, "type": "quantitative"}, "y": {"datum": 1.1, "type": "quantitative"}, "text": {"field": "lab"}}}
          ]
        }
      ],
      "resolve": {"axis": {"x": "independent", "y": "independent"}}
    },
    {
      "width": 294, "height": 235,
      "layer": [
        {
          "data": {"name": "curves"},
          "transform": [{"filter": "datum.p == 2"}],
          "encoding": {
            "x": {"field": "x", "type": "quantitative", "scale": {"domain": [-5, 0.47], "nice": false, "zero": false}, "axis": {"orient": "bottom", "values": [-5,-4.8,-4.6,-4.4,-4.2,-4,-3.8,-3.6,-3.4,-3.2,-3,-2.8,-2.6,-2.4,-2.2,-2,-1.8,-1.6,-1.4,-1.2,-1,-0.8,-0.6,-0.4,-0.2,0,0.2,0.4], "tickSize": {"condition": {"test": "abs(datum.value-round(datum.value))<0.001", "value": -11}, "value": -6}, "labels": false, "title": null}},
            "y": {"field": "y", "type": "quantitative", "scale": {"domain": [0, 1.2], "nice": false, "zero": false}, "axis": {"orient": "left", "values": [0,0.05,0.1,0.15,0.2,0.25,0.3,0.35,0.4,0.45,0.5,0.55,0.6,0.65,0.7,0.75,0.8,0.85,0.9,0.95,1,1.05,1.1,1.15,1.2], "tickSize": {"condition": {"test": "abs(datum.value*5-round(datum.value*5))<0.001", "value": -11}, "value": -6}, "labels": false, "title": null}}
          },
          "layer": [
            {"transform": [{"filter": "datum.s == 'nc_ltg'"}], "mark": {"type": "line", "color": "#00eeff", "strokeWidth": 2.5, "clip": true}},
            {"transform": [{"filter": "datum.s == 'nc_etg'"}], "mark": {"type": "line", "color": "#f58272", "strokeWidth": 2.5, "clip": true}},
            {"transform": [{"filter": "datum.s == 'km_ltg'"}], "mark": {"type": "line", "color": "#0b4c92", "strokeWidth": 7, "clip": true}},
            {"transform": [{"filter": "datum.s == 'km_etg'"}], "mark": {"type": "line", "color": "#ff3434", "strokeWidth": 6.5, "clip": true}},
            {"transform": [{"filter": "datum.s == 'dot'"}], "mark": {"type": "line", "color": "#ff3434", "strokeWidth": 6.5, "strokeDash": [6.5, 12.5], "clip": true}},
            {"transform": [{"filter": "datum.s == 'rp_ltg'"}], "mark": {"type": "line", "color": "#0000ff", "strokeWidth": 1.1, "clip": true}},
            {"transform": [{"filter": "datum.s == 'rp_etg'"}], "mark": {"type": "line", "color": "#7a0000", "strokeWidth": 1.2, "clip": true}}
          ]
        },
        {
          "data": {"values": [{"lab": "9.31≤ log M⁎ ≤ 9.62"}]},
          "layer": [
            {"mark": {"type": "rule", "color": "#808080", "strokeWidth": 2, "strokeDash": [7, 4]}, "encoding": {"x": {"datum": -4.8, "type": "quantitative", "scale": {"domain": [-5, 0.47], "nice": false, "zero": false}, "axis": {"orient": "top", "values": [-5,-4.8,-4.6,-4.4,-4.2,-4,-3.8,-3.6,-3.4,-3.2,-3,-2.8,-2.6,-2.4,-2.2,-2,-1.8,-1.6,-1.4,-1.2,-1,-0.8,-0.6,-0.4,-0.2,0,0.2,0.4], "tickSize": {"condition": {"test": "abs(datum.value-round(datum.value))<0.001", "value": -11}, "value": -6}, "labels": false, "title": null}}, "x2": {"datum": 0.47}, "y": {"datum": 1, "type": "quantitative", "scale": {"domain": [0, 1.2], "nice": false, "zero": false}, "axis": {"orient": "right", "values": [0,0.05,0.1,0.15,0.2,0.25,0.3,0.35,0.4,0.45,0.5,0.55,0.6,0.65,0.7,0.75,0.8,0.85,0.9,0.95,1,1.05,1.1,1.15,1.2], "tickSize": {"condition": {"test": "abs(datum.value*5-round(datum.value*5))<0.001", "value": -11}, "value": -6}, "labels": false, "title": null}}}},
            {"mark": {"type": "text", "font": "DejaVu Serif", "fontSize": 17, "align": "center", "baseline": "middle", "color": "#000"}, "encoding": {"x": {"datum": -2.45, "type": "quantitative"}, "y": {"datum": 1.1, "type": "quantitative"}, "text": {"field": "lab"}}}
          ]
        }
      ],
      "resolve": {"axis": {"x": "independent", "y": "independent"}}
    },
    {
      "width": 294, "height": 235,
      "layer": [
        {
          "data": {"name": "curves"},
          "transform": [{"filter": "datum.p == 3"}],
          "encoding": {
            "x": {"field": "x", "type": "quantitative", "scale": {"domain": [-5, 0.47], "nice": false, "zero": false}, "axis": {"orient": "bottom", "values": [-5,-4.8,-4.6,-4.4,-4.2,-4,-3.8,-3.6,-3.4,-3.2,-3,-2.8,-2.6,-2.4,-2.2,-2,-1.8,-1.6,-1.4,-1.2,-1,-0.8,-0.6,-0.4,-0.2,0,0.2,0.4], "tickSize": {"condition": {"test": "abs(datum.value-round(datum.value))<0.001", "value": -11}, "value": -6}, "labels": false, "title": null}},
            "y": {"field": "y", "type": "quantitative", "scale": {"domain": [0, 1.2], "nice": false, "zero": false}, "axis": {"orient": "left", "values": [0,0.05,0.1,0.15,0.2,0.25,0.3,0.35,0.4,0.45,0.5,0.55,0.6,0.65,0.7,0.75,0.8,0.85,0.9,0.95,1,1.05,1.1,1.15,1.2], "tickSize": {"condition": {"test": "abs(datum.value*5-round(datum.value*5))<0.001", "value": -11}, "value": -6}, "labels": false, "title": null}}
          },
          "layer": [
            {"transform": [{"filter": "datum.s == 'nc_ltg'"}], "mark": {"type": "line", "color": "#00eeff", "strokeWidth": 2.5, "clip": true}},
            {"transform": [{"filter": "datum.s == 'nc_etg'"}], "mark": {"type": "line", "color": "#f58272", "strokeWidth": 2.5, "clip": true}},
            {"transform": [{"filter": "datum.s == 'km_ltg'"}], "mark": {"type": "line", "color": "#0b4c92", "strokeWidth": 7, "clip": true}},
            {"transform": [{"filter": "datum.s == 'km_etg'"}], "mark": {"type": "line", "color": "#ff3434", "strokeWidth": 6.5, "clip": true}},
            {"transform": [{"filter": "datum.s == 'dot'"}], "mark": {"type": "line", "color": "#ff3434", "strokeWidth": 6.5, "strokeDash": [6.5, 12.5], "clip": true}},
            {"transform": [{"filter": "datum.s == 'rp_ltg'"}], "mark": {"type": "line", "color": "#0000ff", "strokeWidth": 1.1, "clip": true}},
            {"transform": [{"filter": "datum.s == 'rp_etg'"}], "mark": {"type": "line", "color": "#7a0000", "strokeWidth": 1.2, "clip": true}}
          ]
        },
        {
          "data": {"values": [{"lab": "9.62≤ log M⁎ ≤ 9.94"}]},
          "layer": [
            {"mark": {"type": "rule", "color": "#808080", "strokeWidth": 2, "strokeDash": [7, 4]}, "encoding": {"x": {"datum": -4.8, "type": "quantitative", "scale": {"domain": [-5, 0.47], "nice": false, "zero": false}, "axis": {"orient": "top", "values": [-5,-4.8,-4.6,-4.4,-4.2,-4,-3.8,-3.6,-3.4,-3.2,-3,-2.8,-2.6,-2.4,-2.2,-2,-1.8,-1.6,-1.4,-1.2,-1,-0.8,-0.6,-0.4,-0.2,0,0.2,0.4], "tickSize": {"condition": {"test": "abs(datum.value-round(datum.value))<0.001", "value": -11}, "value": -6}, "labels": false, "title": null}}, "x2": {"datum": 0.47}, "y": {"datum": 1, "type": "quantitative", "scale": {"domain": [0, 1.2], "nice": false, "zero": false}, "axis": {"orient": "right", "values": [0,0.05,0.1,0.15,0.2,0.25,0.3,0.35,0.4,0.45,0.5,0.55,0.6,0.65,0.7,0.75,0.8,0.85,0.9,0.95,1,1.05,1.1,1.15,1.2], "tickSize": {"condition": {"test": "abs(datum.value*5-round(datum.value*5))<0.001", "value": -11}, "value": -6}, "labels": false, "title": null}}}},
            {"mark": {"type": "text", "font": "DejaVu Serif", "fontSize": 17, "align": "center", "baseline": "middle", "color": "#000"}, "encoding": {"x": {"datum": -2.45, "type": "quantitative"}, "y": {"datum": 1.1, "type": "quantitative"}, "text": {"field": "lab"}}}
          ]
        }
      ],
      "resolve": {"axis": {"x": "independent", "y": "independent"}}
    },
    {
      "width": 294, "height": 235,
      "layer": [
        {
          "data": {"name": "curves"},
          "transform": [{"filter": "datum.p == 4"}],
          "encoding": {
            "x": {"field": "x", "type": "quantitative", "scale": {"domain": [-5, 0.47], "nice": false, "zero": false}, "axis": {"orient": "bottom", "values": [-5,-4.8,-4.6,-4.4,-4.2,-4,-3.8,-3.6,-3.4,-3.2,-3,-2.8,-2.6,-2.4,-2.2,-2,-1.8,-1.6,-1.4,-1.2,-1,-0.8,-0.6,-0.4,-0.2,0,0.2,0.4], "tickSize": {"condition": {"test": "abs(datum.value-round(datum.value))<0.001", "value": -11}, "value": -6}, "labels": false, "title": null}},
            "y": {"field": "y", "type": "quantitative", "scale": {"domain": [0, 1.2], "nice": false, "zero": false}, "axis": {"orient": "left", "values": [0,0.05,0.1,0.15,0.2,0.25,0.3,0.35,0.4,0.45,0.5,0.55,0.6,0.65,0.7,0.75,0.8,0.85,0.9,0.95,1,1.05,1.1,1.15,1.2], "tickSize": {"condition": {"test": "abs(datum.value*5-round(datum.value*5))<0.001", "value": -11}, "value": -6}, "labels": false, "title": null}}
          },
          "layer": [
            {"transform": [{"filter": "datum.s == 'nc_ltg'"}], "mark": {"type": "line", "color": "#00eeff", "strokeWidth": 2.5, "clip": true}},
            {"transform": [{"filter": "datum.s == 'nc_etg'"}], "mark": {"type": "line", "color": "#f58272", "strokeWidth": 2.5, "clip": true}},
            {"transform": [{"filter": "datum.s == 'km_ltg'"}], "mark": {"type": "line", "color": "#0b4c92", "strokeWidth": 7, "clip": true}},
            {"transform": [{"filter": "datum.s == 'km_etg'"}], "mark": {"type": "line", "color": "#ff3434", "strokeWidth": 6.5, "clip": true}},
            {"transform": [{"filter": "datum.s == 'dot'"}], "mark": {"type": "line", "color": "#ff3434", "strokeWidth": 6.5, "strokeDash": [6.5, 12.5], "clip": true}},
            {"transform": [{"filter": "datum.s == 'rp_ltg'"}], "mark": {"type": "line", "color": "#0000ff", "strokeWidth": 1.1, "clip": true}},
            {"transform": [{"filter": "datum.s == 'rp_etg'"}], "mark": {"type": "line", "color": "#7a0000", "strokeWidth": 1.2, "clip": true}}
          ]
        },
        {
          "data": {"values": [{"lab": "9.94≤ log M⁎ ≤10.25"}]},
          "layer": [
            {"mark": {"type": "rule", "color": "#808080", "strokeWidth": 2, "strokeDash": [7, 4]}, "encoding": {"x": {"datum": -4.8, "type": "quantitative", "scale": {"domain": [-5, 0.47], "nice": false, "zero": false}, "axis": {"orient": "top", "values": [-5,-4.8,-4.6,-4.4,-4.2,-4,-3.8,-3.6,-3.4,-3.2,-3,-2.8,-2.6,-2.4,-2.2,-2,-1.8,-1.6,-1.4,-1.2,-1,-0.8,-0.6,-0.4,-0.2,0,0.2,0.4], "tickSize": {"condition": {"test": "abs(datum.value-round(datum.value))<0.001", "value": -11}, "value": -6}, "labels": false, "title": null}}, "x2": {"datum": 0.47}, "y": {"datum": 1, "type": "quantitative", "scale": {"domain": [0, 1.2], "nice": false, "zero": false}, "axis": {"orient": "right", "values": [0,0.05,0.1,0.15,0.2,0.25,0.3,0.35,0.4,0.45,0.5,0.55,0.6,0.65,0.7,0.75,0.8,0.85,0.9,0.95,1,1.05,1.1,1.15,1.2], "tickSize": {"condition": {"test": "abs(datum.value*5-round(datum.value*5))<0.001", "value": -11}, "value": -6}, "labels": false, "title": null}}}},
            {"mark": {"type": "text", "font": "DejaVu Serif", "fontSize": 17, "align": "center", "baseline": "middle", "color": "#000"}, "encoding": {"x": {"datum": -2.45, "type": "quantitative"}, "y": {"datum": 1.1, "type": "quantitative"}, "text": {"field": "lab"}}}
          ]
        }
      ],
      "resolve": {"axis": {"x": "independent", "y": "independent"}}
    },
    {
      "width": 294, "height": 235,
      "layer": [
        {
          "data": {"name": "curves"},
          "transform": [{"filter": "datum.p == 5"}],
          "encoding": {
            "x": {"field": "x", "type": "quantitative", "scale": {"domain": [-5, 0.47], "nice": false, "zero": false}, "axis": {"orient": "bottom", "values": [-5,-4.8,-4.6,-4.4,-4.2,-4,-3.8,-3.6,-3.4,-3.2,-3,-2.8,-2.6,-2.4,-2.2,-2,-1.8,-1.6,-1.4,-1.2,-1,-0.8,-0.6,-0.4,-0.2,0,0.2,0.4], "tickSize": {"condition": {"test": "abs(datum.value-round(datum.value))<0.001", "value": -11}, "value": -6}, "labelExpr": "abs(datum.value-round(datum.value))<0.001 ? format(datum.value,'d') : ''", "labelPadding": 20, "title": "log Rʜɪ", "titlePadding": 4}},
            "y": {"field": "y", "type": "quantitative", "scale": {"domain": [0, 1.2], "nice": false, "zero": false}, "axis": {"orient": "left", "values": [0,0.05,0.1,0.15,0.2,0.25,0.3,0.35,0.4,0.45,0.5,0.55,0.6,0.65,0.7,0.75,0.8,0.85,0.9,0.95,1,1.05,1.1,1.15,1.2], "tickSize": {"condition": {"test": "abs(datum.value*5-round(datum.value*5))<0.001", "value": -11}, "value": -6}, "labelExpr": "abs(datum.value*5-round(datum.value*5))<0.001 && datum.value<1.1 ? format(datum.value,'.1f') : ''", "labelPadding": 22, "title": "𝑃ʟ, 𝑃ᴇ(< Rʜɪ|M⁎)", "titlePadding": 12}}
          },
          "layer": [
            {"transform": [{"filter": "datum.s == 'nc_ltg'"}], "mark": {"type": "line", "color": "#00eeff", "strokeWidth": 2.5, "clip": true}},
            {"transform": [{"filter": "datum.s == 'nc_etg'"}], "mark": {"type": "line", "color": "#f58272", "strokeWidth": 2.5, "clip": true}},
            {"transform": [{"filter": "datum.s == 'km_ltg'"}], "mark": {"type": "line", "color": "#0b4c92", "strokeWidth": 7, "clip": true}},
            {"transform": [{"filter": "datum.s == 'km_etg'"}], "mark": {"type": "line", "color": "#ff3434", "strokeWidth": 6.5, "clip": true}},
            {"transform": [{"filter": "datum.s == 'dot'"}], "mark": {"type": "line", "color": "#ff3434", "strokeWidth": 6.5, "strokeDash": [6.5, 12.5], "clip": true}},
            {"transform": [{"filter": "datum.s == 'rp_ltg'"}], "mark": {"type": "line", "color": "#0000ff", "strokeWidth": 1.1, "clip": true}},
            {"transform": [{"filter": "datum.s == 'rp_etg'"}], "mark": {"type": "line", "color": "#7a0000", "strokeWidth": 1.2, "clip": true}}
          ]
        },
        {
          "data": {"values": [{"lab": "10.25≤ log M⁎ ≤10.56"}]},
          "layer": [
            {"mark": {"type": "rule", "color": "#808080", "strokeWidth": 2, "strokeDash": [7, 4]}, "encoding": {"x": {"datum": -4.8, "type": "quantitative", "scale": {"domain": [-5, 0.47], "nice": false, "zero": false}, "axis": {"orient": "top", "values": [-5,-4.8,-4.6,-4.4,-4.2,-4,-3.8,-3.6,-3.4,-3.2,-3,-2.8,-2.6,-2.4,-2.2,-2,-1.8,-1.6,-1.4,-1.2,-1,-0.8,-0.6,-0.4,-0.2,0,0.2,0.4], "tickSize": {"condition": {"test": "abs(datum.value-round(datum.value))<0.001", "value": -11}, "value": -6}, "labels": false, "title": null}}, "x2": {"datum": 0.47}, "y": {"datum": 1, "type": "quantitative", "scale": {"domain": [0, 1.2], "nice": false, "zero": false}, "axis": {"orient": "right", "values": [0,0.05,0.1,0.15,0.2,0.25,0.3,0.35,0.4,0.45,0.5,0.55,0.6,0.65,0.7,0.75,0.8,0.85,0.9,0.95,1,1.05,1.1,1.15,1.2], "tickSize": {"condition": {"test": "abs(datum.value*5-round(datum.value*5))<0.001", "value": -11}, "value": -6}, "labels": false, "title": null}}}},
            {"mark": {"type": "text", "font": "DejaVu Serif", "fontSize": 17, "align": "center", "baseline": "middle", "color": "#000"}, "encoding": {"x": {"datum": -2.45, "type": "quantitative"}, "y": {"datum": 1.1, "type": "quantitative"}, "text": {"field": "lab"}}}
          ]
        }
      ],
      "resolve": {"axis": {"x": "independent", "y": "independent"}}
    },
    {
      "width": 294, "height": 235,
      "layer": [
        {
          "data": {"name": "curves"},
          "transform": [{"filter": "datum.p == 6"}],
          "encoding": {
            "x": {"field": "x", "type": "quantitative", "scale": {"domain": [-5, 0.47], "nice": false, "zero": false}, "axis": {"orient": "bottom", "values": [-5,-4.8,-4.6,-4.4,-4.2,-4,-3.8,-3.6,-3.4,-3.2,-3,-2.8,-2.6,-2.4,-2.2,-2,-1.8,-1.6,-1.4,-1.2,-1,-0.8,-0.6,-0.4,-0.2,0,0.2,0.4], "tickSize": {"condition": {"test": "abs(datum.value-round(datum.value))<0.001", "value": -11}, "value": -6}, "labelExpr": "abs(datum.value-round(datum.value))<0.001 ? format(datum.value,'d') : ''", "labelPadding": 20, "title": "log Rʜɪ", "titlePadding": 4}},
            "y": {"field": "y", "type": "quantitative", "scale": {"domain": [0, 1.2], "nice": false, "zero": false}, "axis": {"orient": "left", "values": [0,0.05,0.1,0.15,0.2,0.25,0.3,0.35,0.4,0.45,0.5,0.55,0.6,0.65,0.7,0.75,0.8,0.85,0.9,0.95,1,1.05,1.1,1.15,1.2], "tickSize": {"condition": {"test": "abs(datum.value*5-round(datum.value*5))<0.001", "value": -11}, "value": -6}, "labels": false, "title": null}}
          },
          "layer": [
            {"transform": [{"filter": "datum.s == 'nc_ltg'"}], "mark": {"type": "line", "color": "#00eeff", "strokeWidth": 2.5, "clip": true}},
            {"transform": [{"filter": "datum.s == 'nc_etg'"}], "mark": {"type": "line", "color": "#f58272", "strokeWidth": 2.5, "clip": true}},
            {"transform": [{"filter": "datum.s == 'km_ltg'"}], "mark": {"type": "line", "color": "#0b4c92", "strokeWidth": 7, "clip": true}},
            {"transform": [{"filter": "datum.s == 'km_etg'"}], "mark": {"type": "line", "color": "#ff3434", "strokeWidth": 6.5, "clip": true}},
            {"transform": [{"filter": "datum.s == 'dot'"}], "mark": {"type": "line", "color": "#ff3434", "strokeWidth": 6.5, "strokeDash": [6.5, 12.5], "clip": true}},
            {"transform": [{"filter": "datum.s == 'rp_ltg'"}], "mark": {"type": "line", "color": "#0000ff", "strokeWidth": 1.1, "clip": true}},
            {"transform": [{"filter": "datum.s == 'rp_etg'"}], "mark": {"type": "line", "color": "#7a0000", "strokeWidth": 1.2, "clip": true}}
          ]
        },
        {
          "data": {"values": [{"lab": "10.56≤ log M⁎ ≤10.88"}]},
          "layer": [
            {"mark": {"type": "rule", "color": "#808080", "strokeWidth": 2, "strokeDash": [7, 4]}, "encoding": {"x": {"datum": -4.8, "type": "quantitative", "scale": {"domain": [-5, 0.47], "nice": false, "zero": false}, "axis": {"orient": "top", "values": [-5,-4.8,-4.6,-4.4,-4.2,-4,-3.8,-3.6,-3.4,-3.2,-3,-2.8,-2.6,-2.4,-2.2,-2,-1.8,-1.6,-1.4,-1.2,-1,-0.8,-0.6,-0.4,-0.2,0,0.2,0.4], "tickSize": {"condition": {"test": "abs(datum.value-round(datum.value))<0.001", "value": -11}, "value": -6}, "labels": false, "title": null}}, "x2": {"datum": 0.47}, "y": {"datum": 1, "type": "quantitative", "scale": {"domain": [0, 1.2], "nice": false, "zero": false}, "axis": {"orient": "right", "values": [0,0.05,0.1,0.15,0.2,0.25,0.3,0.35,0.4,0.45,0.5,0.55,0.6,0.65,0.7,0.75,0.8,0.85,0.9,0.95,1,1.05,1.1,1.15,1.2], "tickSize": {"condition": {"test": "abs(datum.value*5-round(datum.value*5))<0.001", "value": -11}, "value": -6}, "labels": false, "title": null}}}},
            {"mark": {"type": "text", "font": "DejaVu Serif", "fontSize": 17, "align": "center", "baseline": "middle", "color": "#000"}, "encoding": {"x": {"datum": -2.45, "type": "quantitative"}, "y": {"datum": 1.1, "type": "quantitative"}, "text": {"field": "lab"}}}
          ]
        }
      ],
      "resolve": {"axis": {"x": "independent", "y": "independent"}}
    },
    {
      "width": 294, "height": 235,
      "layer": [
        {
          "data": {"name": "curves"},
          "transform": [{"filter": "datum.p == 7"}],
          "encoding": {
            "x": {"field": "x", "type": "quantitative", "scale": {"domain": [-5, 0.47], "nice": false, "zero": false}, "axis": {"orient": "bottom", "values": [-5,-4.8,-4.6,-4.4,-4.2,-4,-3.8,-3.6,-3.4,-3.2,-3,-2.8,-2.6,-2.4,-2.2,-2,-1.8,-1.6,-1.4,-1.2,-1,-0.8,-0.6,-0.4,-0.2,0,0.2,0.4], "tickSize": {"condition": {"test": "abs(datum.value-round(datum.value))<0.001", "value": -11}, "value": -6}, "labelExpr": "abs(datum.value-round(datum.value))<0.001 ? format(datum.value,'d') : ''", "labelPadding": 20, "title": "log Rʜɪ", "titlePadding": 4}},
            "y": {"field": "y", "type": "quantitative", "scale": {"domain": [0, 1.2], "nice": false, "zero": false}, "axis": {"orient": "left", "values": [0,0.05,0.1,0.15,0.2,0.25,0.3,0.35,0.4,0.45,0.5,0.55,0.6,0.65,0.7,0.75,0.8,0.85,0.9,0.95,1,1.05,1.1,1.15,1.2], "tickSize": {"condition": {"test": "abs(datum.value*5-round(datum.value*5))<0.001", "value": -11}, "value": -6}, "labels": false, "title": null}}
          },
          "layer": [
            {"transform": [{"filter": "datum.s == 'nc_ltg'"}], "mark": {"type": "line", "color": "#00eeff", "strokeWidth": 2.5, "clip": true}},
            {"transform": [{"filter": "datum.s == 'nc_etg'"}], "mark": {"type": "line", "color": "#f58272", "strokeWidth": 2.5, "clip": true}},
            {"transform": [{"filter": "datum.s == 'km_ltg'"}], "mark": {"type": "line", "color": "#0b4c92", "strokeWidth": 7, "clip": true}},
            {"transform": [{"filter": "datum.s == 'km_etg'"}], "mark": {"type": "line", "color": "#ff3434", "strokeWidth": 6.5, "clip": true}},
            {"transform": [{"filter": "datum.s == 'dot'"}], "mark": {"type": "line", "color": "#ff3434", "strokeWidth": 6.5, "strokeDash": [6.5, 12.5], "clip": true}},
            {"transform": [{"filter": "datum.s == 'rp_ltg'"}], "mark": {"type": "line", "color": "#0000ff", "strokeWidth": 1.1, "clip": true}},
            {"transform": [{"filter": "datum.s == 'rp_etg'"}], "mark": {"type": "line", "color": "#7a0000", "strokeWidth": 1.2, "clip": true}}
          ]
        },
        {
          "data": {"values": [{"lab": "10.87≤ log M⁎ ≤11.19"}]},
          "layer": [
            {"mark": {"type": "rule", "color": "#808080", "strokeWidth": 2, "strokeDash": [7, 4]}, "encoding": {"x": {"datum": -4.8, "type": "quantitative", "scale": {"domain": [-5, 0.47], "nice": false, "zero": false}, "axis": {"orient": "top", "values": [-5,-4.8,-4.6,-4.4,-4.2,-4,-3.8,-3.6,-3.4,-3.2,-3,-2.8,-2.6,-2.4,-2.2,-2,-1.8,-1.6,-1.4,-1.2,-1,-0.8,-0.6,-0.4,-0.2,0,0.2,0.4], "tickSize": {"condition": {"test": "abs(datum.value-round(datum.value))<0.001", "value": -11}, "value": -6}, "labels": false, "title": null}}, "x2": {"datum": 0.47}, "y": {"datum": 1, "type": "quantitative", "scale": {"domain": [0, 1.2], "nice": false, "zero": false}, "axis": {"orient": "right", "values": [0,0.05,0.1,0.15,0.2,0.25,0.3,0.35,0.4,0.45,0.5,0.55,0.6,0.65,0.7,0.75,0.8,0.85,0.9,0.95,1,1.05,1.1,1.15,1.2], "tickSize": {"condition": {"test": "abs(datum.value*5-round(datum.value*5))<0.001", "value": -11}, "value": -6}, "labels": false, "title": null}}}},
            {"mark": {"type": "text", "font": "DejaVu Serif", "fontSize": 17, "align": "center", "baseline": "middle", "color": "#000"}, "encoding": {"x": {"datum": -2.45, "type": "quantitative"}, "y": {"datum": 1.1, "type": "quantitative"}, "text": {"field": "lab"}}}
          ]
        }
      ],
      "resolve": {"axis": {"x": "independent", "y": "independent"}}
    },
    {
      "width": 294, "height": 235,
      "layer": [
        {
          "data": {"name": "curves"},
          "transform": [{"filter": "datum.p == 8"}],
          "mark": {"type": "line", "clip": true},
          "encoding": {
            "x": {"field": "x", "type": "quantitative", "scale": {"domain": [-5, 0.47], "nice": false, "zero": false}, "axis": {"orient": "bottom", "values": [-5,-4.8,-4.6,-4.4,-4.2,-4,-3.8,-3.6,-3.4,-3.2,-3,-2.8,-2.6,-2.4,-2.2,-2,-1.8,-1.6,-1.4,-1.2,-1,-0.8,-0.6,-0.4,-0.2,0,0.2,0.4], "tickSize": {"condition": {"test": "abs(datum.value-round(datum.value))<0.001", "value": -11}, "value": -6}, "labelExpr": "abs(datum.value-round(datum.value))<0.001 ? format(datum.value,'d') : ''", "labelPadding": 20, "title": "log Rʜɪ", "titlePadding": 4}},
            "y": {"field": "y", "type": "quantitative", "scale": {"domain": [0, 1.2], "nice": false, "zero": false}, "axis": {"orient": "left", "values": [0,0.05,0.1,0.15,0.2,0.25,0.3,0.35,0.4,0.45,0.5,0.55,0.6,0.65,0.7,0.75,0.8,0.85,0.9,0.95,1,1.05,1.1,1.15,1.2], "tickSize": {"condition": {"test": "abs(datum.value*5-round(datum.value*5))<0.001", "value": -11}, "value": -6}, "labels": false, "title": null}}
          }
        },
        {
          "data": {"name": "legend"},
          "layer": [
            {"transform": [{"filter": "datum.s != null"}], "mark": {"type": "rule"}, "encoding": {
              "x": {"datum": -4.66, "type": "quantitative", "scale": {"domain": [-5, 0.47], "nice": false, "zero": false}, "axis": {"orient": "top", "values": [-5,-4.8,-4.6,-4.4,-4.2,-4,-3.8,-3.6,-3.4,-3.2,-3,-2.8,-2.6,-2.4,-2.2,-2,-1.8,-1.6,-1.4,-1.2,-1,-0.8,-0.6,-0.4,-0.2,0,0.2,0.4], "tickSize": {"condition": {"test": "abs(datum.value-round(datum.value))<0.001", "value": -11}, "value": -6}, "labels": false, "title": null}},
              "x2": {"datum": -4.16},
              "y": {"field": "ly", "type": "quantitative", "scale": {"domain": [0, 1.2], "nice": false, "zero": false}, "axis": {"orient": "right", "values": [0,0.05,0.1,0.15,0.2,0.25,0.3,0.35,0.4,0.45,0.5,0.55,0.6,0.65,0.7,0.75,0.8,0.85,0.9,0.95,1,1.05,1.1,1.15,1.2], "tickSize": {"condition": {"test": "abs(datum.value*5-round(datum.value*5))<0.001", "value": -11}, "value": -6}, "labels": false, "title": null}},
              "color": {"field": "s", "type": "nominal", "scale": {"domain": ["km_ltg","km_etg","nc_ltg","nc_etg","rp_ltg","rp_etg"], "range": ["#0b4c92","#ff3434","#00eeff","#f58272","#0000ff","#ff0000"]}, "legend": null},
              "strokeWidth": {"field": "s", "type": "nominal", "scale": {"domain": ["km_ltg","km_etg","nc_ltg","nc_etg","rp_ltg","rp_etg"], "range": [7,7,3,3,3,3]}, "legend": null}
            }},
            {"mark": {"type": "text", "align": "left", "baseline": "middle", "font": "DejaVu Serif", "fontSize": 12.5, "color": "#222"}, "encoding": {"x": {"datum": -4.01, "type": "quantitative"}, "y": {"field": "ly", "type": "quantitative"}, "text": {"field": "label"}}}
          ]
        }
      ],
      "resolve": {"axis": {"x": "independent", "y": "independent"}}
    }
  ]
}
